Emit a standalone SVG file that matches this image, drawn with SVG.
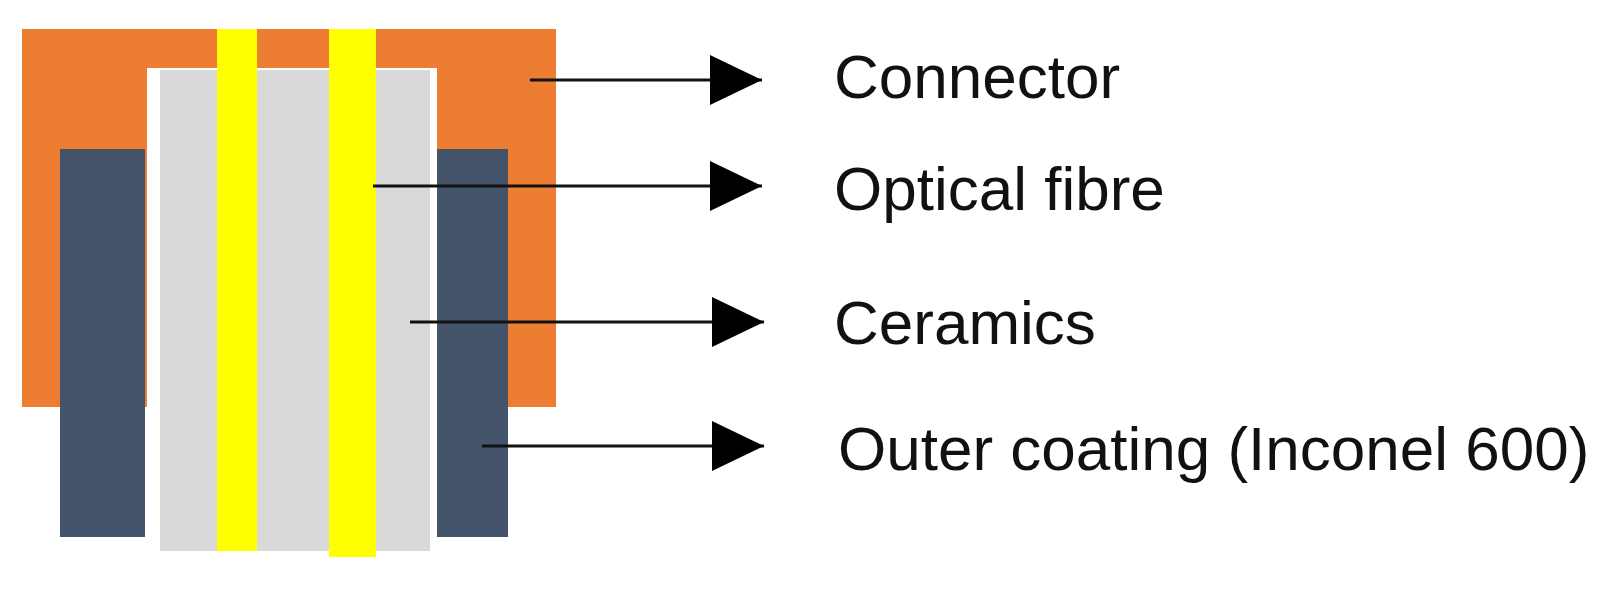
<svg xmlns="http://www.w3.org/2000/svg" width="1614" height="589" viewBox="0 0 1614 589">
<style>
.lbl{font-family:"Liberation Sans",Arial,sans-serif;font-size:62px;fill:#111}
.ln{stroke:#111;stroke-width:3;fill:none}
</style>
<defs><marker id="ah" markerUnits="userSpaceOnUse" markerWidth="52" markerHeight="50" refX="52" refY="25" orient="auto"><path d="M0,0 L52,25 L0,50 Z" fill="#000"/></marker></defs>
<rect width="1614" height="589" fill="#fff"/>
<g id="connector"><rect x="22" y="29" width="534" height="378" fill="#ED7D31"/></g>
<g id="gap"><rect x="147" y="68" width="290" height="483" fill="#fff"/></g>
<g id="ceramics"><rect x="160" y="70" width="270" height="481" fill="#D9D9D9"/></g>
<g id="coating">
<rect x="60" y="149" width="85" height="388" fill="#44546A"/>
<rect x="437" y="149" width="71" height="388" fill="#44546A"/>
</g>
<g id="fibre">
<rect x="217" y="29" width="40" height="522" fill="#FFFF00"/>
<rect x="329" y="29" width="47" height="528" fill="#FFFF00"/>
</g>
<g id="connectors">
<line class="ln" x1="530" y1="80" x2="762" y2="80" marker-end="url(#ah)"/>
<line class="ln" x1="373" y1="186" x2="762" y2="186" marker-end="url(#ah)"/>
<line class="ln" x1="410" y1="322" x2="764" y2="322" marker-end="url(#ah)"/>
<line class="ln" x1="482" y1="446" x2="764" y2="446" marker-end="url(#ah)"/>
</g>
<g id="labels">
<text class="lbl" x="834" y="98">Connector</text>
<text class="lbl" x="834" y="210">Optical fibre</text>
<text class="lbl" x="834" y="344">Ceramics</text>
<text class="lbl" x="838" y="470">Outer coating (Inconel 600)</text>
</g>
</svg>
